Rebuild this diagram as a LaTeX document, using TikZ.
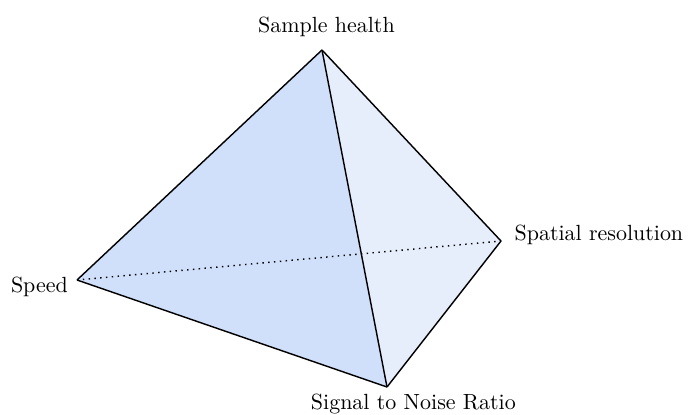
\documentclass[tikz,border=0pt]{standalone}
\usepackage{tikz}
\usetikzlibrary{positioning}
\definecolor{cFront}{HTML}{D0E0FA}
\definecolor{cSide}{HTML}{E6EEFC}
\tikzset{
  edge/.style={line width=0.65pt,line join=round},
  hidden/.style={line width=0.65pt,dotted},
  lbl/.style={inner sep=2pt}}
\begin{document}
\begin{tikzpicture}[x=0.016cm,y=-0.016cm]
\useasboundingbox (0,0) rectangle (689,414);
\coordinate (health) at (322,50);
\coordinate (speed) at (77,280);
\coordinate (res) at (501,241);
\coordinate (snr) at (387,387);
\fill[cFront] (health)--(speed)--(snr)--cycle;
\fill[cSide] (health)--(snr)--(res)--cycle;
\draw[hidden] (speed)--(res);
\draw[edge] (health)--(speed); \draw[edge] (speed)--(snr);
\draw[edge] (health)--(snr); \draw[edge] (health)--(res);
\draw[edge] (snr)--(res);
\node[lbl, above=4pt of health, xshift=2pt] (lhealth) {Sample health};
\node[lbl, left=2pt of speed, yshift=-3pt] (lspeed) {Speed};
\node[lbl, right=4pt of res, yshift=3pt] (lres) {Spatial resolution};
\node[lbl, below=1pt of snr, xshift=12pt] (lsnr) {Signal to Noise Ratio};
\end{tikzpicture}
\end{document}
